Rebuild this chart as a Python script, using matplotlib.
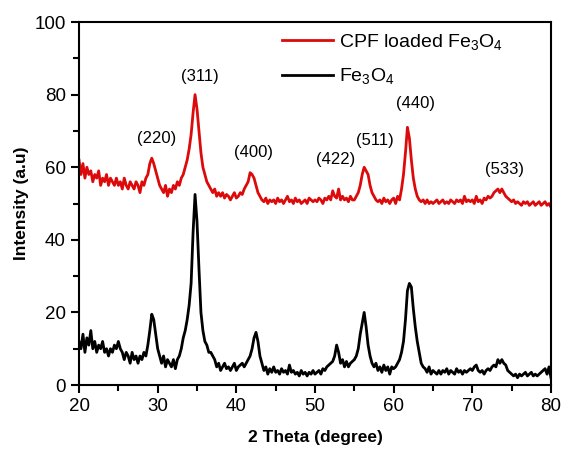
import matplotlib
matplotlib.use("Agg")
import matplotlib.pyplot as plt
from matplotlib.ticker import MultipleLocator
import numpy as np

plt.rcParams['font.family'] = ['Liberation Sans', 'DejaVu Sans']
plt.rcParams['mathtext.fontset'] = 'custom'
plt.rcParams['mathtext.rm'] = 'Liberation Sans'

# XRD scan, 2 theta from 20 to 80 in 0.25 degree steps
two_theta = np.arange(20, 80.001, 0.25)

fe3o4 = [
    12, 10, 14, 9, 13, 11, 15, 10, 12, 9, 11, 10, 12, 9, 10, 8, 10, 9, 11, 10,
    12, 10, 9, 7, 9, 8, 6, 9, 7, 8, 6, 8, 7, 9, 8, 11, 15, 19.5, 18, 14,
    10, 8, 6, 8, 5, 7, 6, 5, 7, 4.5, 7, 8, 10, 13, 15, 18, 22, 28, 42, 52.5,
    45, 32, 20, 15, 12, 11, 9, 9, 8, 7, 5, 6, 4, 5, 6, 4.5, 5, 4, 5, 6,
    4, 5, 5.5, 6, 5, 6, 7, 8, 10, 13, 14.5, 12, 8, 6, 4, 5, 3, 4.5, 3.5, 5,
    3.5, 4, 3, 4.5, 3.5, 4, 3, 5.5, 3.5, 4, 3, 3.5, 2.5, 4, 3, 3.5, 2.5, 3.5, 3, 4,
    3, 3.5, 4, 3, 4.5, 4, 5, 5.5, 6, 6.5, 8, 11, 9, 6, 7, 5, 6.5, 5, 6, 6.5,
    7, 8, 10, 14, 17, 20, 16, 11, 8, 6, 5, 6, 4, 5, 3.5, 5.5, 4, 5, 3, 5,
    4.5, 5, 6, 7, 9, 12, 18, 26, 28, 27, 21, 16, 12, 9, 6, 5, 4.5, 3.5, 5, 3,
    4, 3.5, 3, 4, 3, 4, 3.5, 4.5, 3, 4, 3.5, 3, 4.5, 3.5, 4, 3, 4, 3.5, 4, 4.5,
    4, 5, 5.5, 4, 3.5, 4, 3, 4, 4.5, 4, 5, 5.5, 5, 7, 6, 7, 6, 5.5, 4, 3.5,
    3, 2.5, 3, 2, 3, 2.5, 3, 3.5, 2.5, 3, 3.5, 2.5, 3, 2.5, 3, 3.5, 4, 4.5, 3, 5,
    2,
]

cpf_fe3o4 = [
    62, 58, 61, 57, 60, 58, 59, 56, 58, 57, 59, 55, 57, 56, 58, 55, 57, 56, 55, 57,
    55, 56, 54, 57, 55, 54, 56, 55, 54, 56, 55, 53, 56, 55, 57, 58, 61, 62.5, 61, 59,
    57, 55, 54, 53, 55, 52, 54, 53, 55, 54, 56, 55, 57, 58, 60, 62, 65, 69, 75, 80,
    76, 70, 64, 60, 58, 56, 55, 54, 53, 54, 52, 53, 52, 53, 51.5, 52.5, 52, 51, 52, 53,
    51.5, 52, 53, 52.5, 54, 55, 56, 58.5, 58, 57, 55, 53, 52, 51, 50.5, 51.5, 50, 51, 50.5, 51,
    50, 51.5, 50.5, 51, 50, 51, 52, 50.5, 51, 50, 51.5, 50.5, 51, 50, 50.5, 51, 50, 51.5, 51, 50.5,
    51, 50.5, 51.5, 51, 50, 51.5, 51, 52, 51, 53.5, 52, 51.5, 54, 51, 52, 51, 51.5, 50.5, 52, 51,
    51, 52, 53, 55, 58, 60, 59, 58, 55, 53, 52, 51, 50.5, 51, 50, 51.5, 50.5, 51, 50, 51,
    51.5, 50, 52, 51, 54, 58, 64, 71, 68, 62, 57, 54, 52, 51, 50.5, 51, 50, 51, 50, 50.5,
    50, 50.5, 51, 50, 50.5, 51, 50, 50.5, 50, 51, 50.5, 50, 51, 50.5, 51, 50, 52, 50.5, 51, 50.5,
    51, 50, 52, 50.5, 51, 50, 51.5, 51, 52, 51.5, 52, 53, 53.5, 54, 53, 54, 53, 52, 51.5, 51,
    50.5, 51, 50, 50.5, 50, 49.5, 50.5, 50, 50.5, 49.5, 50, 50.5, 49.5, 50, 50.5, 49.5, 50, 50.5, 49.5, 50,
    49,
]

peak_labels = ['(220)', '(311)', '(400)', '(422)', '(511)', '(440)', '(533)']
peak_label_x = [29.9, 35.4, 42.2, 52.6, 57.6, 62.8, 74.1]
peak_label_y = [68, 85, 64, 62, 67.5, 77.5, 59.5]

fig = plt.figure(figsize=(5.62, 4.5), dpi=100)
ax = fig.add_axes([0.1406, 0.1444, 0.8398, 0.8066])

ax.plot(two_theta, cpf_fe3o4, color='#dc0a0a', lw=2.0,
        label='CPF loaded Fe$_3$O$_4$')
ax.plot(two_theta, fe3o4, color='black', lw=2.0, label='Fe$_3$O$_4$')

for lab, x, y in zip(peak_labels, peak_label_x, peak_label_y):
    ax.text(x, y, lab, ha='center', va='center', fontsize=12)

ax.set_xlim(20, 80)
ax.set_ylim(0, 100)
ax.xaxis.set_major_locator(MultipleLocator(10))
ax.xaxis.set_minor_locator(MultipleLocator(5))
ax.yaxis.set_major_locator(MultipleLocator(20))
ax.yaxis.set_minor_locator(MultipleLocator(10))
ax.tick_params(which='both', direction='out', width=1.5, labelsize=13.5,
               top=False, right=False)
ax.tick_params(which='major', length=6)
ax.tick_params(which='minor', length=4)
for s in ax.spines.values():
    s.set_linewidth(1.5)

ax.set_xlabel('2 Theta (degree)', fontsize=12.5, fontweight='bold', labelpad=11)
ax.set_ylabel('Intensity (a.u)', fontsize=12.5, fontweight='bold', labelpad=4)

ax.legend(loc='upper left', bbox_to_anchor=(0.43, 0.972), frameon=False,
          borderaxespad=0, borderpad=0,
          fontsize=14, handlelength=2.6, handletextpad=0.35, labelspacing=0.75)

fig.savefig('out.png', dpi=100)
